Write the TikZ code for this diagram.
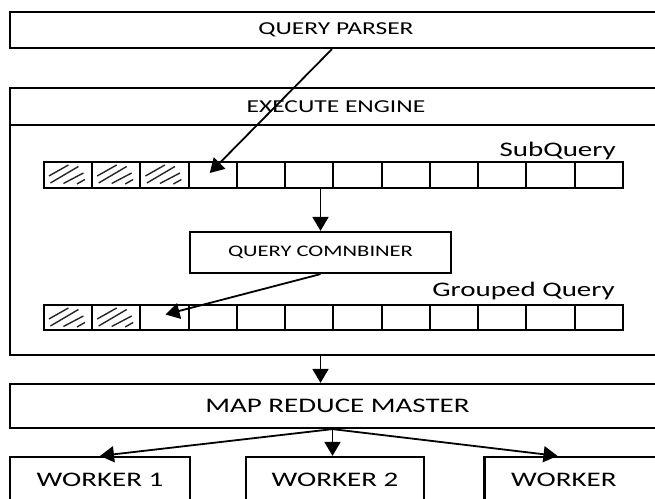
\documentclass[tikz,border=0pt]{standalone}
\usepackage{fontspec}
\setmainfont{Carlito}[FakeStretch=1.4]
\usetikzlibrary{arrows.meta}
\tikzset{
  box/.style={draw=black, line width=2.2pt, rectangle, inner sep=0pt, text=black},
  cell/.style={draw=black, line width=2pt, rectangle, inner sep=0pt, minimum width=48.25pt},
  hatch/.style={line width=1.4pt, black!85},
  arr/.style={line width=1.8pt, -{Triangle[length=14pt,width=16pt]}},
  lbl/.style={inner sep=0pt, text=black},
}
\begin{document}
\begin{tikzpicture}[x=1pt,y=-1pt]
\useasboundingbox (0,0) rectangle (655,498);
\clip (0,0) rectangle (655,498);
\fill[white] (0,0) rectangle (655,498);
% query parser
\node[box, minimum width=652pt, minimum height=36pt, font=\fontsize{18.2}{20}\selectfont] (qp) at (336,30) {QUERY PARSER};
% execute engine
\node[box, minimum width=652pt, minimum height=267pt] (ee) at (336,221.5) {};
\coordinate (hl) at (10,125);
\coordinate (hr) at (662,125);
\draw[line width=2.2pt] (hl) -- (hr);
\node[lbl, font=\fontsize{18.2}{20}\selectfont] (eet) at (336,107) {EXECUTE ENGINE};
% subquery row
\foreach \i in {1,...,12}{
  \node[cell, minimum height=26pt] (s\i) at ({43.9+48.25*(\i-0.5)},175) {};
}
\foreach \i in {1,...,12}{
  \node[cell, minimum height=25pt] (g\i) at ({43.9+48.25*(\i-0.5)},317.5) {};
}
\foreach \c in {s1,s2,s3,g1,g2}{
  \draw[hatch] ([shift={(6,15)}]\c.north west) -- ([shift={(25.5,4)}]\c.north west);
  \draw[hatch] ([shift={(7.5,22)}]\c.north west) -- ([shift={(35.5,5.5)}]\c.north west);
  \draw[hatch] ([shift={(20.5,22.5)}]\c.north west) -- ([shift={(40.5,12)}]\c.north west);
  \draw[hatch] ([shift={(34,23)}]\c.north west) -- ([shift={(42,18.5)}]\c.north west);
}
\node[lbl, anchor=east, font=\fontsize{20.7}{22}\selectfont] (subl) at (616,151) {SubQuery};
\node[lbl, anchor=east, font=\fontsize{20.7}{22}\selectfont] (grpl) at (615,291) {Grouped Query};
% combiner
\node[box, minimum width=261pt, minimum height=41pt, font=\fontsize{16.1}{18}\selectfont] (comb) at (320.5,252.5) {QUERY COMNBINER};
% map reduce master
\node[box, minimum width=655pt, minimum height=44pt, font=\fontsize{20.7}{22}\selectfont] (mrm) at (337.5,406) {MAP REDUCE MASTER};
% workers
\node[box, minimum width=180pt, minimum height=46pt, font=\fontsize{20.7}{22}\selectfont] (w1) at (100,480) {WORKER 1};
\node[box, minimum width=177.5pt, minimum height=46pt, font=\fontsize{20.7}{22}\selectfont] (w2) at (335,480) {WORKER 2};
\node[box, minimum width=180pt, minimum height=46pt, font=\fontsize{20.7}{22}\selectfont] (w3) at (574.5,480) {WORKER\hphantom{ 1}};
% arrows
\draw[arr] ([xshift=-4pt]qp.south) -- ([xshift=-3pt,yshift=2pt]s4.center);
\draw[arr] (comb.north |- s6.south) -- (comb.north);
\draw[arr] (comb.south) -- ([xshift=1pt,yshift=3pt]g3.center);
\draw[arr] (comb.south |- ee.south) -- (comb.south |- mrm.north);
\coordinate (mo) at ([xshift=-5pt]mrm.south);
\draw[arr] (mo) -- (w1.north);
\draw[arr] (mo) -- (mo |- w2.north);
\draw[arr] (mo) -- ([xshift=-17pt]w3.north);
\end{tikzpicture}
\end{document}
